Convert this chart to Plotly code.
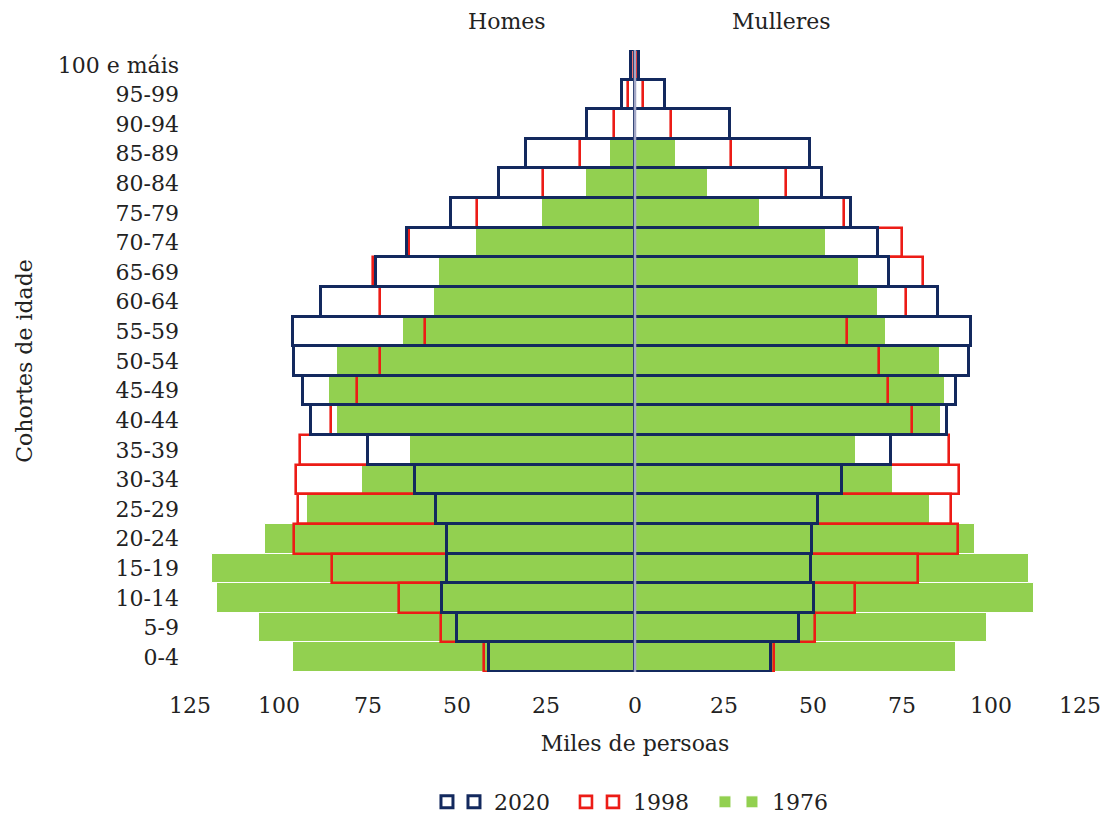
import plotly.graph_objects as go

ages = ["0-4", "5-9", "10-14", "15-19", "20-24", "25-29", "30-34", "35-39", "40-44",
        "45-49", "50-54", "55-59", "60-64", "65-69", "70-74", "75-79", "80-84",
        "85-89", "90-94", "95-99", "100 e máis"]

men_1976 = [96.0, 105.6, 117.5, 118.7, 104.0, 92.2, 76.8, 63.2, 83.8, 86.0, 83.8,
            65.3, 56.5, 55.1, 44.7, 26.0, 13.8, 7.0, 0.0, 0.0, 0.0]
women_1976 = [90.2, 98.8, 112.2, 110.7, 95.6, 83.0, 72.6, 62.1, 85.9, 87.1, 85.7,
              70.4, 68.2, 63.0, 53.7, 35.1, 20.6, 11.5, 0.0, 0.0, 0.0]

men_1998 = [42.3, 54.6, 66.2, 85.2, 95.7, 94.6, 95.2, 94.1, 85.4, 78.2, 71.6,
            59.0, 71.6, 73.7, 63.4, 44.3, 25.9, 15.4, 5.8, 1.9, 0.3]
women_1998 = [39.0, 50.6, 61.8, 79.4, 90.6, 88.8, 91.1, 88.3, 77.7, 71.0, 68.6,
              59.6, 76.1, 80.8, 74.9, 58.7, 42.4, 26.9, 10.1, 2.2, 0.3]

men_2020 = [40.9, 50.1, 54.1, 52.9, 52.9, 56.0, 61.8, 74.9, 91.0, 93.2, 95.7,
            96.2, 88.2, 72.8, 64.1, 51.8, 38.1, 30.6, 13.4, 3.7, 1.0]
women_2020 = [38.2, 46.2, 50.4, 49.4, 49.8, 51.3, 58.1, 71.9, 87.6, 90.2, 93.9,
              94.3, 85.2, 71.3, 68.3, 60.6, 52.4, 49.2, 26.7, 8.5, 1.2]

tick_vals = [-125, -100, -75, -50, -25, 0, 25, 50, 75, 100, 125]
tick_text = ["125", "100", "75", "50", "25", "0", "25", "50", "75", "100", "125"]

NAVY = "#13295e"
RED = "#ec1c16"
GREEN = "#92d050"
FONT = "DejaVu Serif"
FS = 22

fig = go.Figure()

# 1976 filled green
fig.add_trace(go.Bar(y=ages, x=[-v for v in men_1976], orientation="h", name=" ",
                     marker=dict(color=GREEN, line=dict(color="white", width=1)),
                     legend="legend2"))
fig.add_trace(go.Bar(y=ages, x=women_1976, orientation="h", name="1976",
                     marker=dict(color=GREEN, line=dict(color="white", width=1)),
                     legend="legend"))
# 1998 red outline
fig.add_trace(go.Bar(y=ages, x=[-v for v in men_1998], orientation="h", name=" ",
                     marker=dict(color="rgba(0,0,0,0)", line=dict(color=RED, width=2.6)),
                     legend="legend2"))
fig.add_trace(go.Bar(y=ages, x=women_1998, orientation="h", name="1998",
                     marker=dict(color="rgba(0,0,0,0)", line=dict(color=RED, width=2.6)),
                     legend="legend"))
# 2020 navy outline
fig.add_trace(go.Bar(y=ages, x=[-v for v in men_2020], orientation="h", name=" ",
                     marker=dict(color="rgba(0,0,0,0)", line=dict(color=NAVY, width=3)),
                     legend="legend2"))
fig.add_trace(go.Bar(y=ages, x=women_2020, orientation="h", name="2020",
                     marker=dict(color="rgba(0,0,0,0)", line=dict(color=NAVY, width=3)),
                     legend="legend"))

fig.add_shape(type="line", x0=0, x1=0, xref="x", y0=0, y1=1, yref="paper",
              line=dict(color="#a3a7c6", width=2.5), layer="above")

fig.add_annotation(text="Homes", x=0.356, y=1, xref="paper", yref="paper",
                   yanchor="bottom", yshift=14, showarrow=False,
                   font=dict(family=FONT, size=FS, color="#222"))
fig.add_annotation(text="Mulleres", x=0.7225, y=1, xref="paper", yref="paper",
                   yanchor="bottom", yshift=14, showarrow=False,
                   font=dict(family=FONT, size=FS, color="#222"))

legend_common = dict(orientation="h", xanchor="left", xref="container",
                     y=0.0147, yanchor="middle", yref="container",
                     traceorder="reversed", bgcolor="rgba(0,0,0,0)",
                     entrywidth=94, entrywidthmode="pixels",
                     font=dict(family=FONT, size=FS, color="#222"))

fig.update_layout(
    width=1107, height=814,
    margin=dict(l=190, r=27, t=50, b=142),
    barmode="overlay", bargap=0,
    plot_bgcolor="white", paper_bgcolor="white",
    font=dict(family=FONT, size=FS, color="#222"),
    xaxis=dict(range=[-125, 125], tickvals=tick_vals, ticktext=tick_text,
               showgrid=False, zeroline=False, showline=False, ticks="",
               ticklabelstandoff=18, automargin=False,
               title=dict(text="Miles de persoas", standoff=18,
                          font=dict(family=FONT, size=FS))),
    yaxis=dict(showgrid=False, zeroline=False, showline=False, ticks="",
               ticklabelstandoff=10, automargin=False,
               title=dict(text="Cohortes de idade", standoff=18,
                          font=dict(family=FONT, size=FS))),
    legend=dict(x=0.4101, **legend_common),
    legend2=dict(x=0.3857, **legend_common),
)

fig.write_html("out.html", config={"displayModeBar": False},
               post_script="document.body.style.margin='0px';document.body.style.overflow='hidden';")
